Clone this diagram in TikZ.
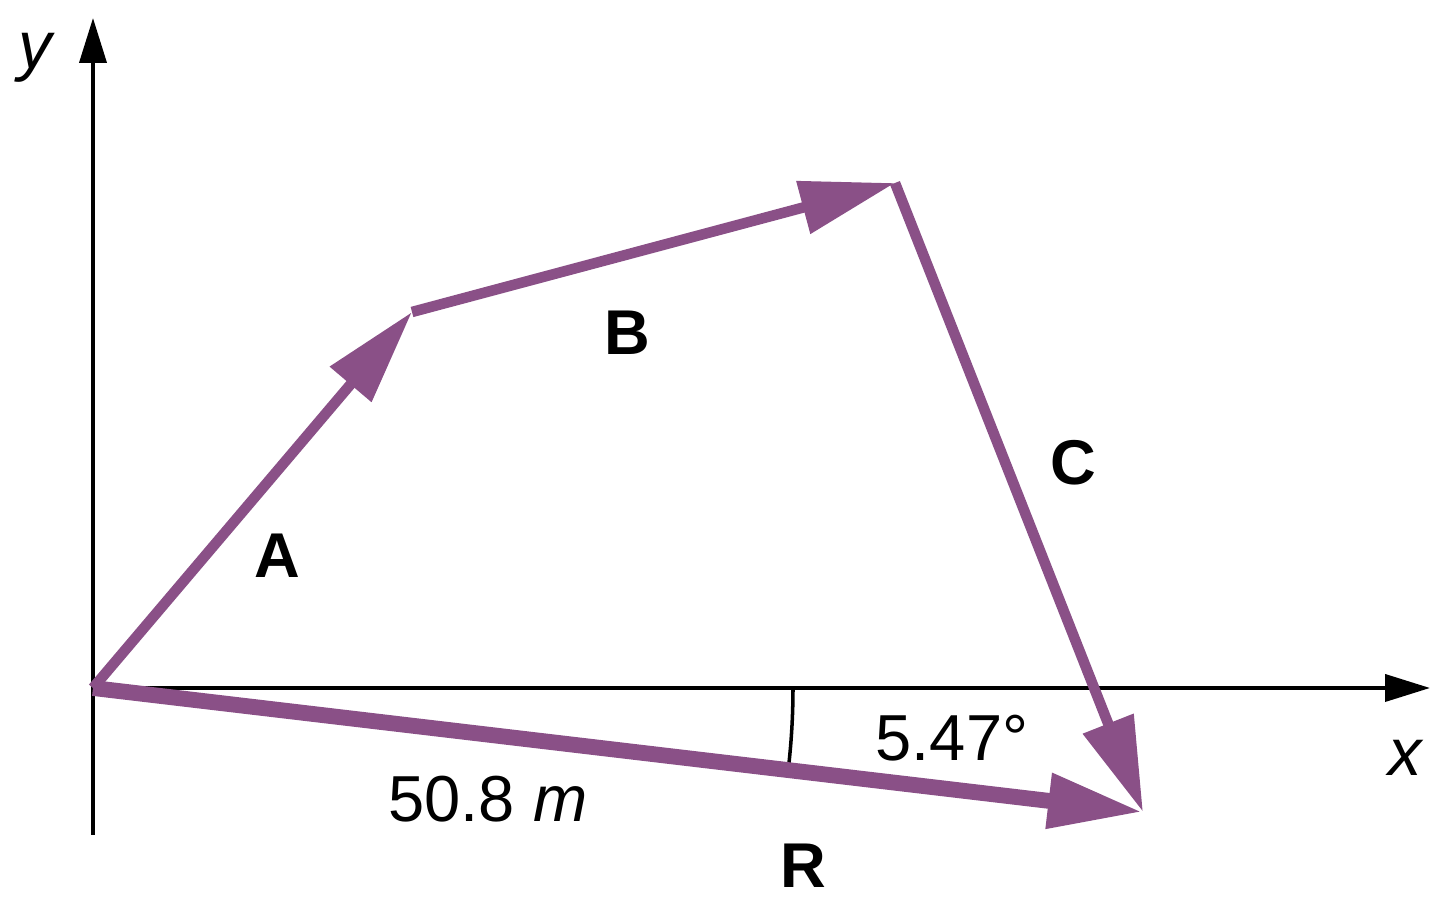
\documentclass[tikz,border=0pt]{standalone}
\usepackage{fontspec}
\setmainfont{Liberation Sans}
\usepackage{tikz}
\usetikzlibrary{arrows.meta,calc}
\definecolor{vecpurple}{RGB}{138,80,135}
\tikzset{
  axis/.style={line width=1.1pt,-{Triangle[length=0.45cm,width=0.27cm]}},
  vec/.style={line width=3pt,draw=vecpurple,-{Triangle[length=0.95cm,width=0.52cm]}},
  veclabel/.style={font=\fontsize{18}{20}\selectfont\bfseries},
  axlabel/.style={font=\fontsize{19}{21}\selectfont\itshape}
}
\begin{document}
\begin{tikzpicture}
				\useasboundingbox (0,0) rectangle (14.4,9.07);
				\coordinate (O) at (0.93,2.19);
				\coordinate (Atip) at (4.12,5.95);
				\coordinate (Btip) at (8.95,7.24);
				\coordinate (Rtip) at (11.43,0.95);
				\coordinate (xend) at (14.30,2.19);
				\coordinate (ybot) at (0.93,0.72);
				\coordinate (yend) at (0.93,8.89);
				\draw[axis] (O) -- (xend);
				\draw[axis] (ybot) -- (yend);
				\node[axlabel] (ylab) at (0.35,8.49) {y};
				\node[axlabel] (xlab) at (14.05,1.49) {x};
				\draw[line width=1pt] (O) ++(0:7.0) arc[start angle=0,end angle=-7.0,radius=7.0];
				\draw[vec,line width=4.5pt] (O) -- (Rtip);
				\draw[vec] (O) -- (Atip);
				\draw[vec] (Atip) -- (Btip);
				\draw[vec] (Btip) -- (Rtip);
				\node[veclabel] (Alab) at (2.77,3.51) {A};
				\node[veclabel] (Blab) at (6.27,5.74) {B};
				\node[veclabel] (Clab) at (10.73,4.44) {C};
				\node[veclabel] (Rlab) at (8.03,0.41) {R};
				\node[font=\fontsize{18.5}{20}\selectfont] (len) at (4.88,1.08) {50.8 \textit{m}};
				\node[font=\fontsize{18.5}{20}\selectfont] (ang) at (9.52,1.69) {5.47°};
\end{tikzpicture}
\end{document}
